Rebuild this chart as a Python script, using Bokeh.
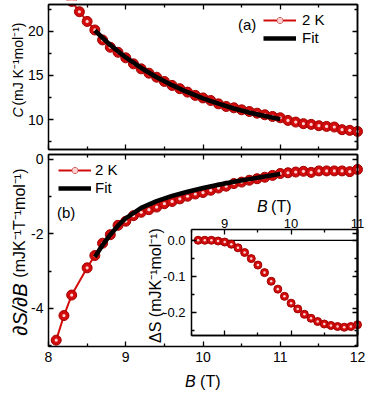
import math
from bokeh.plotting import figure
from bokeh.models import (Range1d, LinearAxis, FixedTicker, Label, Legend, LegendItem,
                          BoxAnnotation)
from bokeh.embed import file_html
from bokeh.resources import INLINE

FONT = "Liberation Sans"

# ---------------- data ----------------
c_field = [8.3, 8.4, 8.5, 8.6, 8.7, 8.8, 8.9, 9.0, 9.1, 9.2, 9.3, 9.4, 9.5, 9.6, 9.7, 9.8, 9.9,
           10.0, 10.1, 10.2, 10.3, 10.4, 10.5, 10.6, 10.7, 10.8, 10.9, 11.0, 11.1, 11.2, 11.3,
           11.4, 11.5, 11.6, 11.7, 11.8, 11.9, 12.0]
c_vals = [23.4, 22.23, 21.13, 20.16, 19.03, 18.2, 17.63, 17.0, 16.32, 15.75, 15.26, 14.8, 14.32,
          13.87, 13.5, 13.11, 12.74, 12.45, 12.16, 11.78, 11.48, 11.33, 11.1, 10.91, 10.72, 10.54,
          10.35, 10.2, 9.9, 9.71, 9.53, 9.45, 9.3, 9.22, 9.15, 8.85, 8.77, 8.65]
c_fit_field = [8.6, 8.8, 9.0, 9.2, 9.4, 9.6, 9.8, 10.0, 10.2, 10.4, 10.6, 10.8, 11.0]
c_fit_vals = [20.1, 18.45, 17.05, 15.85, 14.8, 13.9, 13.1, 12.4, 11.8, 11.25, 10.8, 10.4, 10.05]

ds_field = [8.1, 8.2, 8.3, 8.5, 8.6, 8.7, 8.8, 8.9, 9.0, 9.1, 9.2, 9.3, 9.4, 9.5, 9.6, 9.7,
            9.8, 9.9, 10.0, 10.1, 10.2, 10.3, 10.4, 10.5, 10.6, 10.7, 10.8, 10.9, 11.0, 11.1,
            11.2, 11.3, 11.4, 11.5, 11.6, 11.7, 11.8, 11.9, 12.0]
ds_vals = [-4.85, -4.19, -3.64, -2.91, -2.58, -2.25, -2.02, -1.77, -1.66, -1.51, -1.42, -1.35,
           -1.28, -1.19, -1.13, -1.06, -0.99, -0.93, -0.89, -0.83, -0.77, -0.72, -0.65, -0.61,
           -0.56, -0.52, -0.48, -0.43, -0.38, -0.36, -0.34, -0.32, -0.35, -0.31, -0.31, -0.31,
           -0.31, -0.33, -0.27]
ds_fit_field = [8.6, 8.7, 8.8, 8.9, 9.0, 9.2, 9.4, 9.6, 9.8, 10.0, 10.2, 10.4, 10.6, 10.8, 11.0]
ds_fit_vals = [-2.62, -2.3, -2.02, -1.78, -1.58, -1.3, -1.12, -0.98, -0.87, -0.77, -0.68, -0.6,
               -0.53, -0.46, -0.39]

ins_field = [8.6, 8.7, 8.8, 8.9, 9.0, 9.1, 9.2, 9.3, 9.4, 9.5, 9.6, 9.7, 9.8, 9.9, 10.0, 10.1,
             10.2, 10.3, 10.4, 10.5, 10.6, 10.7, 10.8, 10.9, 11.0]
ins_vals = [0.0, 0.0, 0.0, -0.002, -0.005, -0.011, -0.021, -0.034, -0.051, -0.069, -0.09, -0.114,
            -0.136, -0.156, -0.175, -0.191, -0.206, -0.217, -0.226, -0.233, -0.237, -0.24, -0.242,
            -0.24, -0.235]

x_ticks = [8, 9, 10, 11, 12]
x_tick_labels = ["8", "9", "10", "11", "12"]
x_minor = [8.5, 9.5, 10.5, 11.5]
c_ticks = [10, 15, 20]
c_tick_labels = ["10", "15", "20"]
c_minor = [7.5, 12.5, 17.5, 22.5]
ds_ticks = [0, -2, -4]
ds_tick_labels = ["0", "-2", "-4"]
ds_minor = [-1, -3, -5]
ins_x_ticks = [9, 10, 11]
ins_x_tick_labels = ["9", "10", "11"]
ins_x_minor = [8.5, 9.5, 10.5]
ins_y_ticks = [0.0, -0.1, -0.2]
ins_y_tick_labels = ["0.0", "-0.1", "-0.2"]
ins_y_minor = [-0.05, -0.15, -0.25]
ins_zero = [0.0, 0.0]

# ---------------- layout (page pixels) ----------------
W, H = 372, 392
X0, X1 = 8.0, 12.0
C0, C1 = 6.6, 23.05
D0, D1 = -5.02, 0.13
IX0, IX1 = 8.5, 11.0
IY0, IY1 = -0.265, 0.03
PX_L, PX_R = 48, 357            # main panels, left/right
TOP_T, TOP_B = 4, 149           # top panel
BOT_T, BOT_B = 154, 346         # bottom panel
IN_L, IN_R, IN_T, IN_B = 191, 357, 229, 335   # inset

RED = "#d20c0c"
EDGE = "#a30000"
HL = "#ffd2d2"
ROT = math.pi / 2


def xrange_for(v0, v1, a, b):
    s = (v1 - v0) / (b - a)
    return Range1d(v0 - a * s, v0 + (W - a) * s)


def yrange_for(vlo, vhi, top, bot):
    s = (vhi - vlo) / (bot - top)
    return Range1d(vlo - (H - bot) * s, vhi + top * s)


p = figure(width=W, height=H, min_border=0, x_range=Range1d(0, W), y_range=Range1d(H, 0),
           x_axis_location=None, y_axis_location=None,
           output_backend="svg", toolbar_location=None)
p.grid.grid_line_color = None
p.outline_line_color = None
p.background_fill_color = "white"
p.border_fill_color = "white"

p.extra_x_ranges = {"bx": xrange_for(X0, X1, PX_L, PX_R),
                    "ix": xrange_for(IX0, IX1, IN_L, IN_R)}
p.extra_y_ranges = {"cy": yrange_for(C0, C1, TOP_T, TOP_B),
                    "dy": yrange_for(D0, D1, BOT_T, BOT_B),
                    "iy": yrange_for(IY0, IY1, IN_T, IN_B)}


def base_axis(side, xrn, yrn, loc, bounds, ticker):
    ax = LinearAxis(x_range_name=xrn, y_range_name=yrn, fixed_location=loc, bounds=bounds,
                    ticker=ticker)
    ax.axis_line_color = "black"
    ax.axis_line_width = 1.5
    ax.major_tick_line_color = "black"
    ax.major_tick_line_width = 1.3
    ax.minor_tick_line_color = "black"
    ax.minor_tick_line_width = 1.3
    ax.major_tick_in = 5
    ax.major_tick_out = 0
    ax.minor_tick_out = 0
    p.add_layout(ax, side)
    return ax


def side_axis(side, xrn, yrn, loc, bounds, ticks, minor, labels=None, size="14px", standoff=5):
    if labels is not None:
        ax = base_axis(side, xrn, yrn, loc, bounds, FixedTicker(ticks=ticks, minor_ticks=minor))
        ax.minor_tick_in = 3
        ax.major_label_overrides = {t: l for t, l in zip(ticks, labels)}
        ax.major_label_text_font = FONT
        ax.major_label_text_font_size = size
        ax.major_label_text_color = "black"
        ax.major_label_standoff = standoff
    else:
        # mirror side: tick marks only (majors drawn as long minor marks)
        a1 = base_axis(side, xrn, yrn, loc, bounds, FixedTicker(ticks=[], minor_ticks=ticks))
        a1.minor_tick_in = 5
        a2 = base_axis(side, xrn, yrn, loc, bounds, FixedTicker(ticks=[], minor_ticks=minor))
        a2.minor_tick_in = 3


def panel(xrn, yrn, xlo, xhi, ylo, yhi, xt, xm, yt, ym, left=None, below=None, above=None,
          size="14px", lstand=5, bstand=5, astand=5):
    side_axis("left", xrn, yrn, xlo, (ylo, yhi), yt, ym, left, size, lstand)
    side_axis("right", xrn, yrn, xhi, (ylo, yhi), yt, ym)
    side_axis("below", xrn, yrn, ylo, (xlo, xhi), xt, xm, below, size, bstand)
    side_axis("above", xrn, yrn, yhi, (xlo, xhi), xt, xm, above, size, astand)


def label(x, y, text, size="16px", italic=False, angle=0.0, align="left", baseline="middle"):
    p.add_layout(Label(x=x, y=y, text=text, text_font=FONT, text_font_size=size,
                       text_font_style="italic" if italic else "normal",
                       text_color="black", angle=angle, angle_units="rad",
                       text_align=align, text_baseline=baseline))


def balls(x, y, size, xrn, yrn):
    r1 = p.scatter(x, y, marker="circle", size=size, fill_color=RED, line_color=EDGE,
                   line_width=1, x_range_name=xrn, y_range_name=yrn)
    r2 = p.scatter(x, y, marker="circle", size=size * 0.32, fill_color=HL, line_color=None,
                   x_range_name=xrn, y_range_name=yrn)
    return r1, r2


def legend(items, left, bottom, standoff):
    lg = Legend(items=items, location=(left, H - bottom), background_fill_alpha=0,
                border_line_color=None, padding=0, margin=0, spacing=1, glyph_width=33,
                glyph_height=14, label_height=14, label_standoff=standoff,
                label_text_font=FONT, label_text_font_size="15px", label_text_color="black")
    p.add_layout(lg)


# ---------------- top panel ----------------
l1 = p.line(c_field, c_vals, line_color=RED, line_width=2, x_range_name="bx", y_range_name="cy")
b1, h1 = balls(c_field, c_vals, 10, "bx", "cy")
f1 = p.line(c_fit_field, c_fit_vals, line_color="black", line_width=4.5,
            x_range_name="bx", y_range_name="cy")
# hide what runs above the top panel
p.add_layout(BoxAnnotation(bottom=C1, x_range_name="bx", y_range_name="cy", fill_color="white",
                           fill_alpha=1, line_color=None, level="glyph"))
panel("bx", "cy", X0, X1, C0, C1, x_ticks, x_minor, c_ticks, c_minor, left=c_tick_labels)
legend([LegendItem(label="2 K", renderers=[l1, b1, h1]),
        LegendItem(label="Fit", renderers=[f1])], 263, 46, 6)
label(237.5, 23.5, "(a)", size="15px")
# y label:  C (mJ K-1 mol-1)
label(17.5, 117, "C", size="14px", italic=True, angle=ROT, align="left")
label(17.5, 22, "(mJ K\u207b\u00b9mol\u207b\u00b9)", size="14px", angle=ROT, align="right")

# ---------------- bottom panel ----------------
l2 = p.line(ds_field, ds_vals, line_color=RED, line_width=2, x_range_name="bx", y_range_name="dy")
b2, h2 = balls(ds_field, ds_vals, 10, "bx", "dy")
f2 = p.line(ds_fit_field, ds_fit_vals, line_color="black", line_width=4.5,
            x_range_name="bx", y_range_name="dy")
panel("bx", "dy", X0, X1, D0, D1, x_ticks, x_minor, ds_ticks, ds_minor,
      left=ds_tick_labels, below=x_tick_labels)
legend([LegendItem(label="2 K", renderers=[l2, b2, h2]),
        LegendItem(label="Fit", renderers=[f2])], 58, 196, 4)
label(56.5, 212, "(b)", size="15px")
label(19, 335, "\u2202S/\u2202B", size="20px", italic=True, angle=ROT, align="left")
label(19, 168, "(mJK\u207b\u00b9T\u207b\u00b9mol\u207b\u00b9)", angle=ROT, align="right")
label(184.5, 381, "B", italic=True, align="left")
label(220, 381, "(T)", align="right")

# ---------------- inset ----------------
p.line([IX0, IX1], ins_zero, line_color="black", line_width=1.3,
       x_range_name="ix", y_range_name="iy")
balls(ins_field, ins_vals, 8, "ix", "iy")
panel("ix", "iy", IX0, IX1, IY0, IY1, ins_x_ticks, ins_x_minor, ins_y_ticks, ins_y_minor,
      left=ins_y_tick_labels, above=ins_x_tick_labels, size="13px", lstand=6, astand=2)
label(256.5, 206, "B", italic=True, align="left")
label(291, 206, "(T)", align="right")
label(154.5, 285, "\u0394S (mJK\u207b\u00b9mol\u207b\u00b9)", angle=ROT, align="center")

open("out.html", "w").write(file_html(p, INLINE))
